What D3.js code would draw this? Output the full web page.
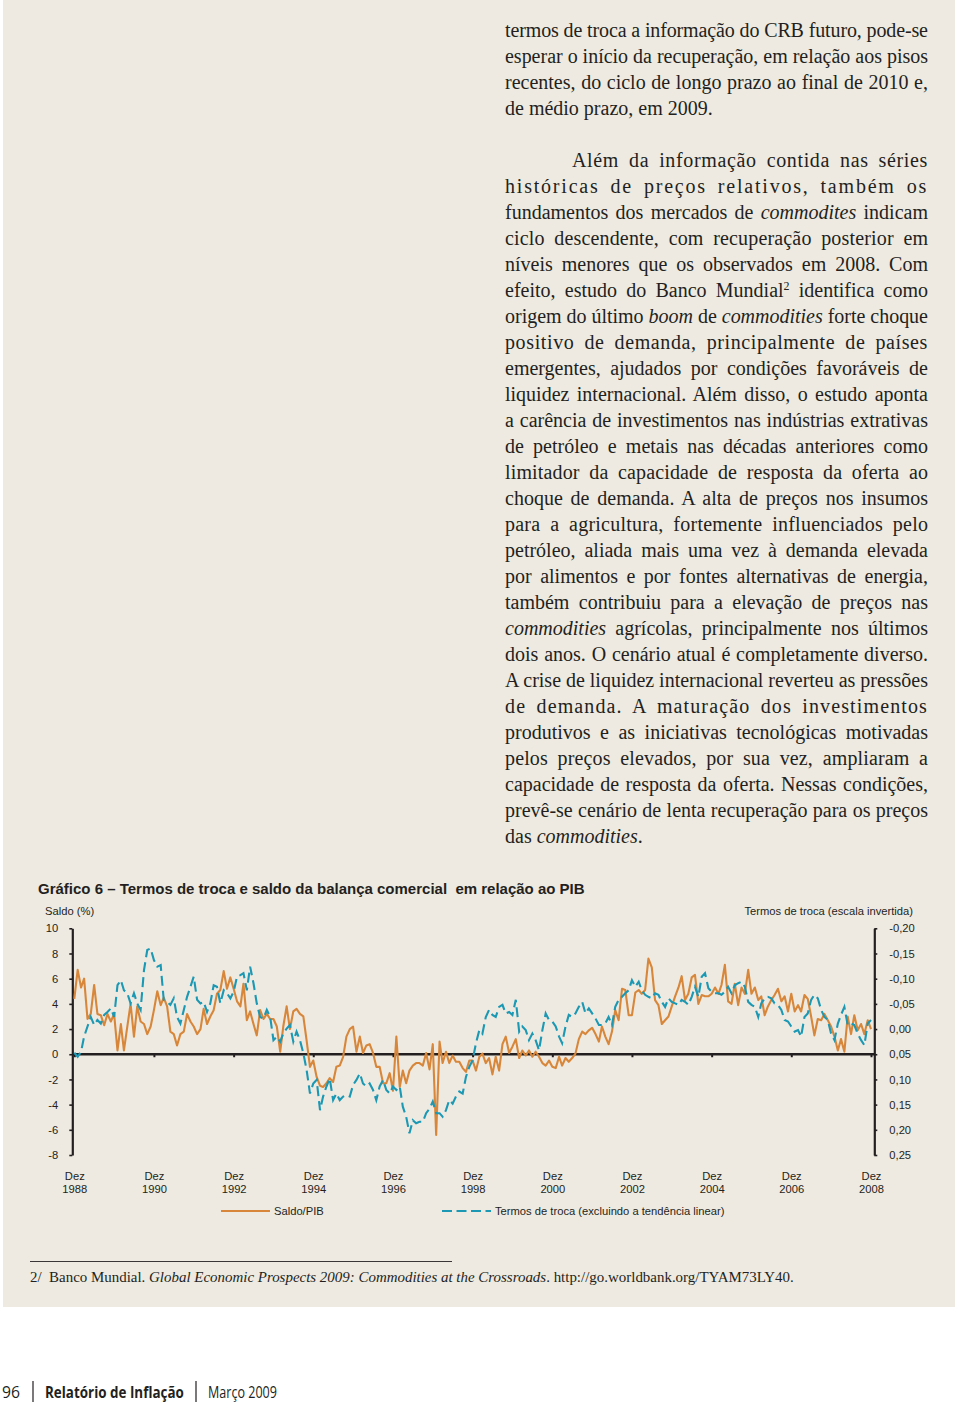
<!DOCTYPE html>
<html><head><meta charset="utf-8">
<script src="https://cdn.jsdelivr.net/npm/d3@7"></script>
<style>
html,body{margin:0;padding:0;background:#fff}
body{width:960px;height:1404px;position:relative;overflow:hidden}
svg{position:absolute;left:0;top:0}
</style></head>
<body>
<svg id="page" width="960" height="1404"></svg>
<script>
// ---------------- DATA ----------------
const startMonth = [1988, 11];           // Dez 1988 (year, month index)
const tickYears = [1988,1990,1992,1994,1996,1998,2000,2002,2004,2006,2008];
const leftTicks = [-8,-6,-4,-2,0,2,4,6,8,10];
const rightTicks = [-0.20,-0.15,-0.10,-0.05,0.00,0.05,0.10,0.15,0.20,0.25];

// Saldo/PIB (%), monthly from Dez 1988
const saldoPIB = [
 4.4,6.7,5.3,6.0,2.8,3.2,5.5,3.2,3.1,2.3,
 3.2,2.6,3.2,0.3,2.4,0.3,2.2,4.0,1.4,3.8,
 2.6,2.4,1.6,2.2,3.5,5.0,3.9,4.5,3.8,1.8,
 1.6,0.7,1.6,1.8,3.2,2.6,2.2,1.6,2.0,3.6,
 2.4,3.0,3.5,4.8,5.1,6.6,5.2,6.1,5.2,4.2,
 3.8,5.6,2.7,3.4,2.4,1.5,3.5,2.8,3.2,2.8,
 2.8,2.2,0.2,2.2,3.8,2.0,3.4,3.6,3.2,3.0,
 1.1,-1.0,-0.5,-1.8,-2.5,-2.6,-2.3,-1.9,-2.2,-1.0,
 -0.9,-0.2,1.4,2.0,2.2,0.2,1.4,0.1,0.7,0.8,
 0.1,-1.0,-1.0,-2.3,-2.3,-1.5,-2.9,1.4,-2.6,-1.3,
 -2.3,-1.3,-0.9,-0.7,-0.7,-0.9,0.1,-1.2,0.8,-6.4,
 1.0,-0.7,0.2,-0.7,-0.1,-0.6,-0.6,-1.1,-1.4,-0.5,
 -0.5,-1.3,-0.2,
 0.05,-0.7,-0.3,-1.6,-0.2,-1.3,0.8,1.4,0.1,0.6,
 1.2,-0.3,0.3,-0.1,0.3,-0.2,0.2,-0.2,-0.7,-0.9,
 -0.5,-1.0,-1.1,-0.2,-0.9,-0.3,-0.6,-0.3,0.05,1.2,
 1.8,1.6,1.9,2.1,1.6,1.0,2.2,1.4,0.8,1.8,
 3.5,2.7,5.2,5.1,3.1,3.1,4.9,5.1,4.8,5.1,
 7.6,6.9,4.3,3.9,2.4,2.7,3.0,3.8,4.6,5.3,
 6.2,4.3,4.8,6.1,6.3,4.0,4.7,4.6,4.6,4.8,
 5.3,4.8,5.5,7.1,4.2,4.0,5.6,3.9,5.3,4.8,
 6.7,4.8,5.3,4.3,4.6,3.1,3.8,4.3,4.7,5.2,
 4.2,4.6,3.4,4.8,3.4,3.9,3.4,4.7,4.4,3.0,
 1.5,2.8,2.7,3.2,2.7,2.2,1.4,0.3,1.2,0.2,
 3.0,1.6,3.1,1.9,2.4,1.6,2.7,2.0
];

// Termos de troca (excluindo a tendência linear), right scale (inverted), monthly from Dez 1988
const termosTroca = [
 0.047,0.055,0.045,0.015,-0.005,-0.024,-0.008,-0.018,-0.011,-0.028,
 -0.034,-0.041,-0.024,-0.087,-0.097,-0.077,-0.071,-0.051,-0.071,-0.051,
 -0.038,-0.117,-0.157,-0.160,-0.137,-0.124,-0.127,-0.058,-0.054,-0.048,
 -0.061,-0.024,-0.011,-0.038,-0.064,-0.084,-0.104,-0.058,-0.051,-0.054,
 -0.034,-0.051,-0.087,-0.084,-0.051,-0.077,-0.071,-0.061,-0.074,-0.104,
 -0.107,-0.111,-0.077,-0.124,-0.091,-0.051,-0.024,-0.021,-0.038,-0.024,
 0.022,0.015,0.025,0.009,-0.001,-0.008,0.025,0.005,0.022,0.048,
 0.081,0.128,0.108,0.101,0.161,0.134,0.114,0.098,0.141,0.128,
 0.141,0.134,0.131,0.134,0.111,0.101,0.088,0.108,0.114,0.108,
 0.121,0.141,0.114,0.101,0.121,0.128,0.114,0.121,0.114,0.154,
 0.174,0.207,0.181,0.187,0.184,0.184,0.167,0.158,0.144,0.167,
 0.167,0.174,0.161,0.141,0.148,0.134,0.124,0.128,0.095,0.075,
 0.062,0.028,0.002,
 0.009,-0.024,-0.038,-0.028,-0.024,-0.044,-0.048,-0.031,-0.034,-0.028,
 -0.058,0.005,-0.005,0.002,0.022,0.009,0.022,0.042,0.002,-0.031,
 -0.018,-0.015,-0.005,0.015,0.028,-0.005,-0.028,-0.024,-0.031,-0.044,
 -0.054,-0.031,-0.041,-0.031,-0.021,-0.008,-0.008,-0.011,-0.024,-0.008,
 -0.044,-0.058,-0.064,-0.071,-0.077,-0.097,-0.084,-0.094,-0.077,-0.068,
 -0.064,-0.061,-0.071,-0.068,-0.054,-0.044,-0.061,-0.054,-0.051,-0.048,
 -0.058,-0.054,-0.048,-0.064,-0.084,-0.064,-0.104,-0.111,-0.081,-0.074,
 -0.071,-0.071,-0.068,-0.074,-0.084,-0.071,-0.087,-0.091,-0.094,-0.084,
 -0.054,-0.048,-0.044,-0.024,-0.051,-0.061,-0.064,-0.061,-0.051,-0.048,
 -0.038,-0.018,-0.015,-0.005,0.005,0.002,0.015,-0.024,-0.031,-0.058,
 -0.068,-0.061,-0.038,-0.024,-0.018,0.009,0.022,-0.011,-0.028,-0.044,
 -0.008,-0.011,-0.008,0.009,0.022,0.032,-0.011,-0.018
];

const legendLabels = ["Saldo/PIB", "Termos de troca (excluindo a tendência linear)"];

const para1 = [
 "termos de troca a informação do CRB futuro, pode-se",
 "esperar o início da recuperação, em relação aos pisos",
 "recentes, do ciclo de longo prazo ao final de 2010 e,",
 "de médio prazo, em 2009."
];
const para2 = [
 "Além da informação contida nas séries",
 "históricas de preços relativos, também os",
 "fundamentos dos mercados de *commodites* indicam",
 "ciclo descendente, com recuperação posterior em",
 "níveis menores que os observados em 2008. Com",
 "efeito, estudo do Banco Mundial^2^ identifica como",
 "origem do último *boom* de *commodities* forte choque",
 "positivo de demanda, principalmente de países",
 "emergentes, ajudados por condições favoráveis de",
 "liquidez internacional. Além disso, o estudo aponta",
 "a carência de investimentos nas indústrias extrativas",
 "de petróleo e metais nas décadas anteriores como",
 "limitador da capacidade de resposta da oferta ao",
 "choque de demanda. A alta de preços nos insumos",
 "para a agricultura, fortemente influenciados pelo",
 "petróleo, aliada mais uma vez à demanda elevada",
 "por alimentos e por fontes alternativas de energia,",
 "também contribuiu para a elevação de preços nas",
 "*commodities* agrícolas, principalmente nos últimos",
 "dois anos. O cenário atual é completamente diverso.",
 "A crise de liquidez internacional reverteu as pressões",
 "de demanda. A maturação dos investimentos",
 "produtivos e as iniciativas tecnológicas motivadas",
 "pelos preços elevados, por sua vez, ampliaram a",
 "capacidade de resposta da oferta. Nessas condições,",
 "prevê-se cenário de lenta recuperação para os preços",
 "das *commodities*."
];

// ---------------- DRAWING ----------------
const INK = "#231f20";
const ORANGE = "#d8873a";
const TEAL = "#1b98b4";
const SANS = "'Liberation Sans', Arial, sans-serif";
const SERIF = "'Liberation Serif', 'Times New Roman', serif";
const CFS = 11.2;

const svg = d3.select("#page");
svg.append("rect").attr("x",3).attr("y",0).attr("width",952).attr("height",1307).attr("fill","#eeeae1");

// ---- body text ----
function addRich(textSel, str){
  const parts = str.split(/(\*[^*]+\*|\^[^^]+\^)/).filter(s=>s.length);
  parts.forEach(p=>{
    if(p[0]==="*") textSel.append("tspan").attr("font-style","italic").text(p.slice(1,-1));
    else if(p[0]==="^") textSel.append("tspan").attr("font-size","0.6em").attr("baseline-shift","super").text(p.slice(1,-1));
    else textSel.append("tspan").text(p);
  });
}
const FS = 20;
function bodyLine(str, x, y, width, justify){
  const t = svg.append("text").attr("x",x).attr("y",y)
    .attr("font-family",SERIF).attr("font-size",FS).attr("fill",INK);
  addRich(t,str);
  if(justify){
    const nat = t.node().getComputedTextLength();
    const plain = str.replace(/[*^]/g,"");
    const nSp = (plain.match(/ /g)||[]).length;
    const nCh = plain.length;
    let extra = width - nat;
    let ws = nSp? Math.min(extra/nSp, 4.5) : 0;
    if(extra < 0) ws = 0;
    let rest = extra - ws*nSp;
    let ls = rest/(nCh-1);
    t.attr("word-spacing",ws).attr("letter-spacing",ls);
    const now = t.node().getComputedTextLength();
    const diff = width - now;
    if(Math.abs(diff)>0.5 && nSp) t.attr("word-spacing", ws + diff/nSp);
  }
}
para1.forEach((s,i)=> bodyLine(s, 505, 37 + 26*i, 423, i<para1.length-1));
para2.forEach((s,i)=> bodyLine(s, i===0?572:505, 167 + 26*i, i===0?356:423, i<para2.length-1));

// ---- chart ----
const dates = saldoPIB.map((d,i)=> new Date(startMonth[0], startMonth[1]+i, 1));
const tickDates = tickYears.map(y=> new Date(y,11,1));
const X0 = 72.3, X1 = 874.3, YT = 928.3, YB = 1155;
const x = d3.scaleTime().domain([tickDates[0], tickDates[tickDates.length-1]]).range([74.3, 871]);
const yL = d3.scaleLinear().domain([-8,10]).range([YB,YT]);
const yR = d3.scaleLinear().domain([0.25,-0.20]).range([YB,YT]);
const loc = d3.formatLocale({decimal:",",thousands:".",grouping:[3],currency:["R$",""],minus:"-"});

svg.append("text").attr("x",38).attr("y",894).attr("font-family",SANS).attr("font-weight","bold")
  .attr("font-size",15).attr("fill",INK).attr("xml:space","preserve")
  .text("Gráfico 6 – Termos de troca e saldo da balança comercial  em relação ao PIB");
svg.append("text").attr("x",45).attr("y",915).attr("font-family",SANS).attr("font-size",CFS).attr("fill",INK).text("Saldo (%)");
svg.append("text").attr("x",913).attr("y",915).attr("text-anchor","end").attr("font-family",SANS).attr("font-size",CFS).attr("fill",INK).text("Termos de troca (escala invertida)");

function styleAxis(g){
  g.selectAll("text").attr("font-family",SANS).attr("font-size",CFS).attr("fill",INK);
  g.selectAll(".tick line").attr("stroke",INK).attr("stroke-width",1.6);
  g.select(".domain").attr("stroke",INK).attr("stroke-width",2.2);
}
svg.append("g").attr("transform",`translate(${X0},0)`)
  .call(d3.axisLeft(yL).tickValues(leftTicks).tickFormat(loc.format("d")).tickSize(3).tickSizeOuter(0).tickPadding(11))
  .call(styleAxis);
svg.append("g").attr("transform",`translate(${X1},0)`)
  .call(d3.axisRight(yR).tickValues(rightTicks).tickFormat(loc.format(".2f")).tickSize(3).tickSizeOuter(0).tickPadding(12))
  .call(styleAxis);

// zero line with ticks
const gz = svg.append("g").attr("transform",`translate(0,${yL(0)})`)
  .call(d3.axisBottom(x).tickValues(tickDates).tickSize(3).tickSizeOuter(0).tickFormat(""));
gz.select(".domain").remove();
gz.selectAll(".tick line").attr("stroke",INK).attr("stroke-width",2);
svg.append("line").attr("x1",X0).attr("x2",X1).attr("y1",yL(0)).attr("y2",yL(0)).attr("stroke",INK).attr("stroke-width",2.4);

// bottom labels
const gl = svg.append("g").attr("transform",`translate(0,1165)`)
  .call(d3.axisBottom(x).tickValues(tickDates).tickSize(0).tickSizeOuter(0));
gl.select(".domain").remove();
gl.selectAll(".tick text").each(function(d){
  const t = d3.select(this).text(null).attr("y",null).attr("dy",null)
    .attr("font-family",SANS).attr("font-size",CFS).attr("fill",INK);
  t.append("tspan").attr("x",0).attr("y",15).text("Dez");
  t.append("tspan").attr("x",0).attr("y",28).text(d.getFullYear());
});

// series
svg.append("path").datum(saldoPIB)
  .attr("d", d3.line().x((d,i)=>x(dates[i])).y(d=>yL(d)))
  .attr("fill","none").attr("stroke",ORANGE).attr("stroke-width",2.1).attr("stroke-linejoin","round");
svg.append("path").datum(termosTroca)
  .attr("d", d3.line().x((d,i)=>x(dates[i])).y(d=>yR(d)))
  .attr("fill","none").attr("stroke",TEAL).attr("stroke-width",2.1).attr("stroke-dasharray","10,5");

// legend
const lg = svg.append("g");
lg.append("line").attr("x1",221).attr("x2",270).attr("y1",1211).attr("y2",1211).attr("stroke",ORANGE).attr("stroke-width",2);
lg.append("text").attr("x",274).attr("y",1215).attr("font-family",SANS).attr("font-size",CFS).attr("fill",INK).text(legendLabels[0]);
lg.append("line").attr("x1",442).attr("x2",491).attr("y1",1211).attr("y2",1211).attr("stroke",TEAL).attr("stroke-width",2).attr("stroke-dasharray","10,4.5");
lg.append("text").attr("x",495).attr("y",1215).attr("font-family",SANS).attr("font-size",CFS).attr("fill",INK).text(legendLabels[1]);

// footnote
svg.append("line").attr("x1",30).attr("x2",452).attr("y1",1261.5).attr("y2",1261.5).attr("stroke","#3a3536").attr("stroke-width",1.2);
const fn = svg.append("text").attr("x",30).attr("y",1282).attr("font-family",SERIF).attr("font-size",14.5).attr("fill",INK).attr("xml:space","preserve");
fn.append("tspan").text("2/  Banco Mundial. ");
fn.append("tspan").attr("font-style","italic").text("Global Economic Prospects 2009: Commodities at the Crossroads");
fn.append("tspan").text(". http://go.worldbank.org/TYAM73LY40.");
(function(){ const w = fn.node().getComputedTextLength(); const s = 764/w;
  fn.attr("transform",`translate(${30*(1-s)},0) scale(${s},1)`); })();

// page footer
function fitText(str, x, y, w, bold){
  const t = svg.append("text").attr("x",x).attr("y",y).attr("font-family","'Open Sans','Noto Sans',sans-serif")
    .attr("font-size",16.5).attr("font-weight",bold?"bold":"normal").attr("fill",INK).text(str);
  const nat = t.node().getComputedTextLength(); const s = w/nat;
  t.attr("transform",`translate(${x*(1-s)},0) scale(${s},1)`);
}
fitText("96", 2, 1398, 18, false);
fitText("Relatório de Inflação", 45, 1398, 139, true);
fitText("Março 2009", 208, 1398, 69, false);
svg.append("line").attr("x1",33).attr("x2",33).attr("y1",1381).attr("y2",1402).attr("stroke",INK).attr("stroke-width",1.2);
svg.append("line").attr("x1",196).attr("x2",196).attr("y1",1381).attr("y2",1402).attr("stroke",INK).attr("stroke-width",1.2);
</script>
</body></html>
